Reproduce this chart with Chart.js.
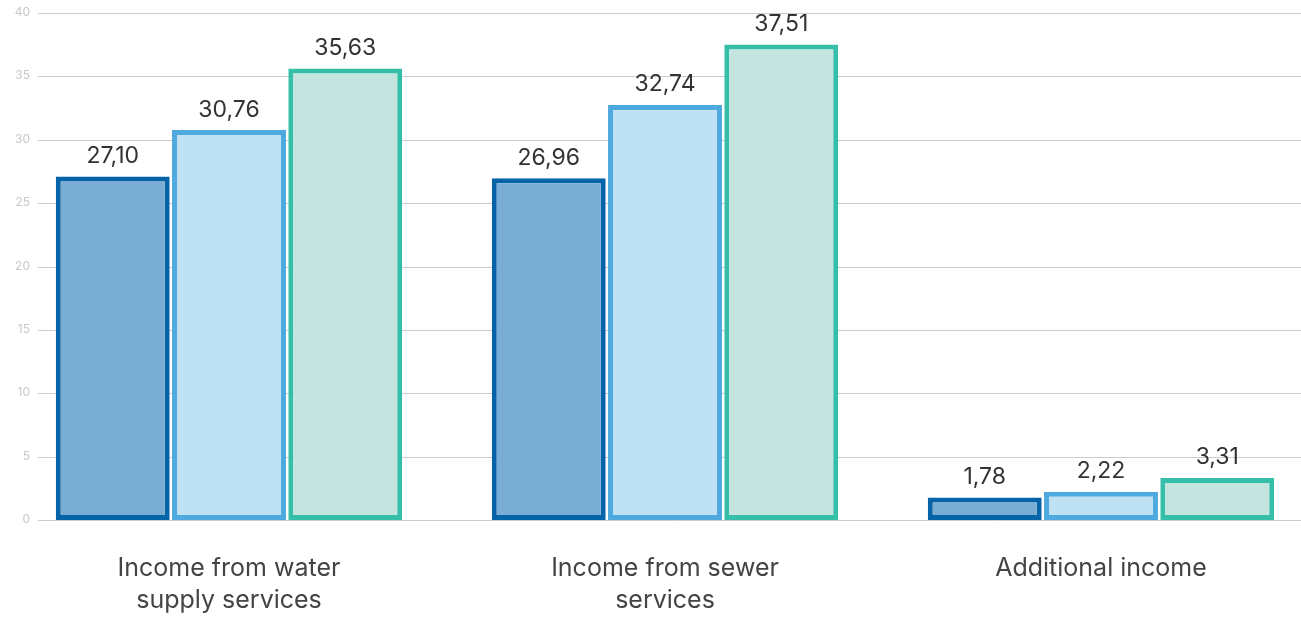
<!DOCTYPE html>
<html>
<head>
<meta charset="utf-8">
<script src="https://cdn.jsdelivr.net/npm/chart.js@4"></script>
<style>
  html, body { margin: 0; padding: 0; background: #fff; overflow: hidden; }
  #wrap { width: 1319px; height: 617px; position: relative; }
</style>
</head>
<body>
<div id="wrap"><canvas id="incomeChart"></canvas></div>
<script>
// categories and series
const categories = [
  ["Income from water", "supply services"],
  ["Income from sewer", "services"],
  "Additional income"
];
const seriesA = [27.10, 26.96, 1.78];
const seriesB = [30.76, 32.74, 2.22];
const seriesC = [35.63, 37.51, 3.31];
const yTicks = [0, 5, 10, 15, 20, 25, 30, 35, 40];

const FONT = "Inter, 'Open Sans', sans-serif";

// horizontal grid + y tick labels, grid starts right of the labels
const yAxisDecor = {
  id: 'yAxisDecor',
  beforeDatasetsDraw(chart) {
    const ctx = chart.ctx;
    const y = chart.scales.y;
    ctx.save();
    ctx.strokeStyle = "#cccccc";
    ctx.lineWidth = 1;
    ctx.fillStyle = "#c8c8c8";
    ctx.font = "12px " + FONT;
    ctx.textAlign = "right";
    ctx.textBaseline = "middle";
    yTicks.forEach(v => {
      const py = Math.round(y.getPixelForValue(v)) + 0.5;
      ctx.beginPath();
      ctx.moveTo(38, py);
      ctx.lineTo(chart.width, py);
      ctx.stroke();
      ctx.fillText(String(v), 30, py - 1);
    });
    ctx.restore();
  }
};

// value labels above bars, comma as decimal separator
const valueLabels = {
  id: 'valueLabels',
  afterDatasetsDraw(chart) {
    const ctx = chart.ctx;
    ctx.save();
    ctx.font = "23px " + FONT;
    ctx.fillStyle = "#333";
    ctx.textAlign = "center";
    ctx.textBaseline = "bottom";
    chart.data.datasets.forEach((ds, i) => {
      chart.getDatasetMeta(i).data.forEach((bar, j) => {
        const txt = ds.data[j].toFixed(2).replace('.', ',');
        ctx.fillText(txt, bar.x, bar.y - 9);
      });
    });
    ctx.restore();
  }
};

new Chart(document.getElementById("incomeChart"), {
  type: "bar",
  data: {
    labels: categories,
    datasets: [
      { data: seriesA, backgroundColor: "#7aadd3", borderColor: "#0563a8" },
      { data: seriesB, backgroundColor: "#bfe1f4", borderColor: "#4eaade" },
      { data: seriesC, backgroundColor: "#c4e5df", borderColor: "#36bfa8" }
    ]
  },
  options: {
    responsive: true,
    maintainAspectRatio: false,
    animation: false,
    layout: { padding: { top: 13, right: 0, left: 11, bottom: -24 } },
    datasets: {
      bar: {
        borderWidth: 5,
        borderSkipped: false,
        categoryPercentage: 0.8,
        barPercentage: 0.98
      }
    },
    plugins: {
      legend: { display: false },
      tooltip: { enabled: false }
    },
    scales: {
      x: {
        grid: { display: false },
        border: { display: false },
        ticks: {
          color: "#444",
          font: { family: FONT, size: 25, lineHeight: 1.3 },
          padding: 24
        }
      },
      y: {
        display: false,
        min: 0,
        max: 40
      }
    }
  },
  plugins: [yAxisDecor, valueLabels]
});
</script>
</body>
</html>
